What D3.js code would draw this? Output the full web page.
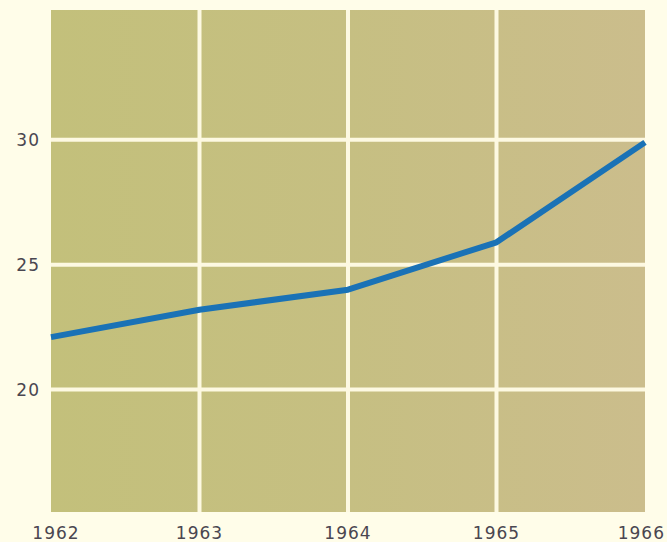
<!DOCTYPE html>
<html>
<head>
<meta charset="utf-8">
<script src="https://cdn.jsdelivr.net/npm/d3@7"></script>
<style>
  body { margin: 0; background: #fffde9; }
  svg { display: block; }
  .tick-label { font-family: "DejaVu Sans", sans-serif; font-size: 17px; fill: #4a4650; letter-spacing: 1px; }
</style>
</head>
<body>
<svg id="chart"></svg>
<script>
// values
const years = [1962, 1963, 1964, 1965, 1966];
const values = [22.1, 23.2, 24.0, 25.9, 29.9];
const yTicks = [20, 25, 30];

const width = 667, height = 542;
const margin = {top: 10, right: 22, bottom: 30, left: 51};

const svg = d3.select('#chart')
    .attr('width', width)
    .attr('height', height);

const xScale = d3.scaleLinear()
    .domain([1962, 1966])
    .range([margin.left, width - margin.right]);

const yScale = d3.scaleLinear()
    .domain([15.1, 35.2])
    .range([height - margin.bottom, margin.top]);

// olive-to-tan background of the plot
const defs = svg.append('defs');
const grad = defs.append('linearGradient')
    .attr('id', 'bg')
    .attr('x1', '0%').attr('x2', '100%')
    .attr('y1', '0%').attr('y2', '0%');
grad.append('stop').attr('offset', '0%').attr('stop-color', '#c3c07b');
grad.append('stop').attr('offset', '50%').attr('stop-color', '#c6bf82');
grad.append('stop').attr('offset', '100%').attr('stop-color', '#cbbd8c');

svg.append('rect')
    .attr('x', xScale(1962))
    .attr('y', yScale(35.2))
    .attr('width', xScale(1966) - xScale(1962))
    .attr('height', yScale(15.1) - yScale(35.2))
    .attr('fill', 'url(#bg)');

// grid
svg.append('g')
    .selectAll('line')
    .data(yTicks)
    .join('line')
    .attr('x1', xScale(1962))
    .attr('x2', xScale(1966))
    .attr('y1', d => yScale(d))
    .attr('y2', d => yScale(d))
    .attr('stroke', '#fdf9e2')
    .attr('stroke-width', 4);

svg.append('g')
    .selectAll('line')
    .data(years.slice(1, -1))
    .join('line')
    .attr('x1', d => xScale(d))
    .attr('x2', d => xScale(d))
    .attr('y1', yScale(35.2))
    .attr('y2', yScale(15.1))
    .attr('stroke', '#fdf9e2')
    .attr('stroke-width', 4);

// line
const line = d3.line()
    .x((d, i) => xScale(years[i]))
    .y(d => yScale(d));

svg.append('path')
    .datum(values)
    .attr('d', line)
    .attr('fill', 'none')
    .attr('stroke', '#1a72b6')
    .attr('stroke-width', 6)
    .attr('stroke-linejoin', 'round');

// labels
svg.append('g')
    .selectAll('text')
    .data(yTicks)
    .join('text')
    .attr('class', 'tick-label')
    .attr('x', 40)
    .attr('y', d => yScale(d))
    .attr('dy', '0.36em')
    .attr('text-anchor', 'end')
    .text(d => d);

// last year label sits flush with the right edge, as in the original
svg.append('g')
    .selectAll('text')
    .data(years)
    .join('text')
    .attr('class', 'tick-label')
    .attr('x', d => d === 1966 ? width - 2 : xScale(d) + (d === 1962 ? 5 : 0))
    .attr('y', 539)
    .attr('text-anchor', d => d === 1966 ? 'end' : 'middle')
    .text(d => d);
</script>
</body>
</html>
